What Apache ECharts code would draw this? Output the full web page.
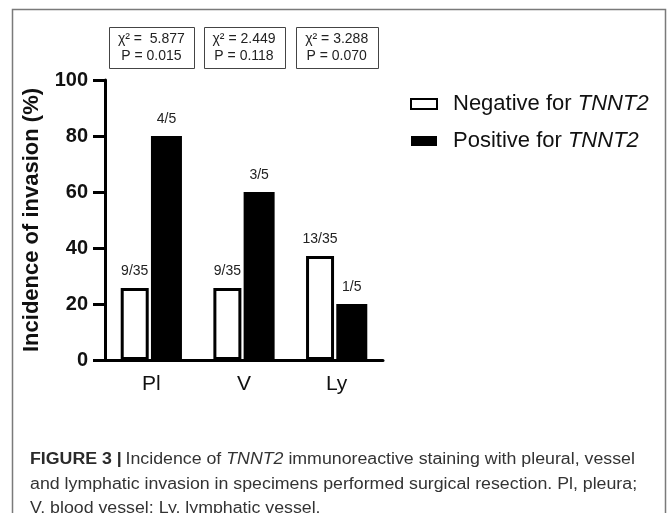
<!DOCTYPE html>
<html>
<head>
<meta charset="utf-8">
<script src="https://cdn.jsdelivr.net/npm/echarts@6/dist/echarts.min.js"></script>
<style>
html,body{margin:0;padding:0;background:#fff;}
#chart{width:668px;height:513px;}
</style>
</head>
<body>
<div id="chart"></div>
<script>
var categories = ['Pl', 'V', 'Ly'];
var negativeValues = [25.7, 25.7, 37.1];
var positiveValues = [80, 60, 20];
var negativeLabels = ['9/35', '9/35', '13/35'];
var positiveLabels = ['4/5', '3/5', '1/5'];
var chiValues = ['5.877', '2.449', '3.288'];
var pValues = ['0.015', '0.118', '0.070'];
var yTicks = [0, 20, 40, 60, 80, 100];

var FONT = '"Liberation Sans", Arial, Helvetica, sans-serif';
var chart = echarts.init(document.getElementById('chart'));

var option = {
  backgroundColor: '#fff',
  animation: false,
  textStyle: { fontFamily: FONT },
  grid: { left: 105, top: 80, right: 285, bottom: 153 },
  legend: {
    orient: 'vertical',
    left: 405,
    top: 88,
    icon: 'rect',
    itemWidth: 26,
    itemHeight: 10,
    itemGap: 15,
    data: ['Negative for TNNT2', 'Positive for TNNT2'],
    formatter: function (name) {
      var parts = name.split('TNNT2');
      return '{n|' + parts[0] + '}{i|TNNT2}';
    },
    textStyle: {
      color: '#111',
      fontSize: 22,
      fontFamily: FONT,
      padding: [0, 0, 0, 11],
      rich: {
        n: { fontSize: 22, color: '#111', fontFamily: FONT },
        i: { fontSize: 22, color: '#111', fontStyle: 'italic', fontFamily: FONT }
      }
    }
  },
  xAxis: {
    type: 'category',
    data: categories,
    axisLine: { lineStyle: { color: '#000', width: 3 } },
    axisTick: { alignWithLabel: true, length: 10, lineStyle: { color: '#000', width: 3 } },
    axisLabel: { color: '#111', fontSize: 21, margin: 14, fontFamily: FONT }
  },
  yAxis: {
    type: 'value',
    min: yTicks[0],
    max: yTicks[yTicks.length - 1],
    interval: yTicks[1] - yTicks[0],
    name: 'Incidence of invasion (%)',
    nameLocation: 'middle',
    nameGap: 62,
    nameTextStyle: { color: '#111', fontSize: 22, fontWeight: 'bold', fontFamily: FONT },
    splitLine: { show: false },
    axisLine: { show: true, lineStyle: { color: '#000', width: 3 } },
    axisTick: { show: true, length: 12, lineStyle: { color: '#000', width: 3 } },
    axisLabel: { color: '#111', fontSize: 20, fontWeight: 'bold', margin: 17, fontFamily: FONT }
  },
  series: [
    {
      name: 'Negative for TNNT2',
      type: 'bar',
      data: negativeValues,
      barWidth: 28,
      barGap: '8%',
      itemStyle: { color: '#fff', borderColor: '#000', borderWidth: 3 },
      label: {
        show: true, position: 'top', distance: 10, color: '#222', fontSize: 14, fontFamily: FONT,
        formatter: function (p) { return negativeLabels[p.dataIndex]; }
      }
    },
    {
      name: 'Positive for TNNT2',
      type: 'bar',
      data: positiveValues,
      barWidth: 31,
      itemStyle: { color: '#000' },
      label: {
        show: true, position: 'top', distance: 10, color: '#222', fontSize: 14, fontFamily: FONT,
        formatter: function (p) { return positiveLabels[p.dataIndex]; }
      }
    }
  ]
};
chart.setOption(option);

// annotations: frame, chi-square boxes, caption
var graphics = [];
graphics.push({
  type: 'rect', silent: true,
  shape: { x: 12.5, y: 9.5, width: 653, height: 520 },
  style: { fill: 'none', stroke: '#7a7a7a', lineWidth: 1.5 }
});
var boxWidths = [85, 81, 82];
categories.forEach(function (c, i) {
  var cx = chart.convertToPixel({ xAxisIndex: 0 }, c);
  var w = boxWidths[i];
  graphics.push({
    type: 'rect', silent: true,
    shape: { x: Math.round(cx - w / 2) + 0.5, y: 27.5, width: w, height: 41 },
    style: { fill: '#fff', stroke: '#444', lineWidth: 1 }
  });
  graphics.push({
    type: 'text', silent: true,
    x: cx, y: 39,
    style: {
      text: 'χ² = ' + (i === 0 ? ' ' : '') + chiValues[i],
      fill: '#222', font: '14px ' + FONT, align: 'center', verticalAlign: 'middle'
    }
  });
  graphics.push({
    type: 'text', silent: true,
    x: cx, y: 56,
    style: {
      text: 'P = ' + pValues[i],
      fill: '#222', font: '14px ' + FONT, align: 'center', verticalAlign: 'middle'
    }
  });
});
var captionLines = [
  '{b|FIGURE 3 |} {n|Incidence of }{i|TNNT2}{n| immunoreactive staining with pleural, vessel}',
  '{n|and lymphatic invasion in specimens performed surgical resection. Pl, pleura;}',
  '{n|V, blood vessel; Ly, lymphatic vessel.}'
];
var captionY = [460, 485, 509];
captionLines.forEach(function (t, i) {
  graphics.push({
    type: 'text', silent: true,
    x: 30, y: captionY[i],
    scaleX: 1.11,
    style: {
      text: t,
      verticalAlign: 'middle',
      rich: {
        b: { font: 'bold 16px ' + FONT, fill: '#2a2a2a' },
        n: { font: '16px ' + FONT, fill: '#333' },
        i: { font: 'italic 16px ' + FONT, fill: '#333' }
      }
    }
  });
});
chart.setOption({ graphic: graphics });
</script>
</body>
</html>
